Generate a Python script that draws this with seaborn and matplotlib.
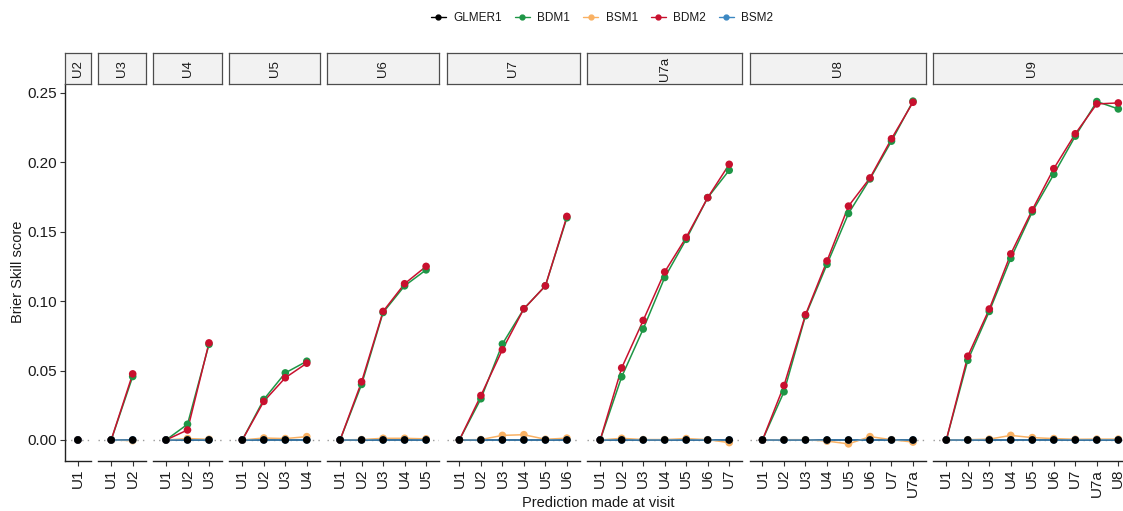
import matplotlib
matplotlib.use("Agg")
import matplotlib.pyplot as plt
from matplotlib.lines import Line2D
import numpy as np
import pandas as pd
import seaborn as sns

# Visits at which the prediction is made, and the target visit of each facet
visits = ["U1", "U2", "U3", "U4", "U5", "U6", "U7", "U7a", "U8"]
targets = ["U2", "U3", "U4", "U5", "U6", "U7", "U7a", "U8", "U9"]
models = ["GLMER1", "BDM1", "BSM1", "BDM2", "BSM2"]
palette = {"GLMER1": "#000000", "BDM1": "#1E9646", "BSM1": "#F9B163",
           "BDM2": "#C8102E", "BSM2": "#3C88C2"}

# Brier skill score per target visit (one value per prediction visit)
glmer1 = {
    "U2": [0.0],
    "U3": [0.0, 0.0],
    "U4": [0.0, 0.0, 0.0],
    "U5": [0.0, 0.0, 0.0, 0.0],
    "U6": [0.0, 0.0, 0.0, 0.0, 0.0],
    "U7": [0.0, 0.0, 0.0, 0.0, 0.0, 0.0],
    "U7a": [0.0, 0.0, 0.0, 0.0, 0.0, 0.0, 0.0],
    "U8": [0.0, 0.0, 0.0, 0.0, 0.0, 0.0, 0.0, 0.0],
    "U9": [0.0, 0.0, 0.0, 0.0, 0.0, 0.0, 0.0, 0.0, 0.0],
}
bdm1 = {
    "U2": [0.0],
    "U3": [0.0, 0.0457],
    "U4": [0.0, 0.0113, 0.0689],
    "U5": [0.0, 0.0292, 0.0483, 0.0567],
    "U6": [0.0, 0.0400, 0.0918, 0.1110, 0.1225],
    "U7": [0.0, 0.0297, 0.0691, 0.0945, 0.1110, 0.1600],
    "U7a": [0.0, 0.0455, 0.0799, 0.1170, 0.1445, 0.1745, 0.1942],
    "U8": [0.0, 0.0347, 0.0895, 0.1265, 0.1631, 0.1880, 0.2152, 0.2440],
    "U9": [0.0, 0.0574, 0.0926, 0.1308, 0.1643, 0.1913, 0.2188, 0.2437, 0.2384],
}
bsm1 = {
    "U2": [0.0],
    "U3": [0.0, -0.0005],
    "U4": [0.0, 0.0010, 0.0005],
    "U5": [0.0, 0.0014, 0.0010, 0.0024],
    "U6": [0.0, 0.0003, 0.0012, 0.0012, 0.0008],
    "U7": [0.0, 0.0003, 0.0033, 0.0038, 0.0005, 0.0013],
    "U7a": [0.0, 0.0012, 0.0003, 0.0003, 0.0010, 0.0002, -0.0019],
    "U8": [0.0, 0.0002, 0.0002, -0.0008, -0.0028, 0.0024, 0.0002, -0.0015],
    "U9": [0.0, 0.0002, 0.0006, 0.0033, 0.0017, 0.0010, 0.0005, 0.0006, 0.0006],
}
bdm2 = {
    "U2": [0.0],
    "U3": [0.0, 0.0476],
    "U4": [0.0, 0.0072, 0.0699],
    "U5": [0.0, 0.0278, 0.0448, 0.0553],
    "U6": [0.0, 0.0419, 0.0926, 0.1125, 0.1250],
    "U7": [0.0, 0.0320, 0.0650, 0.0945, 0.1110, 0.1610],
    "U7a": [0.0, 0.0519, 0.0861, 0.1210, 0.1459, 0.1745, 0.1985],
    "U8": [0.0, 0.0392, 0.0902, 0.1289, 0.1684, 0.1887, 0.2169, 0.2432],
    "U9": [0.0, 0.0603, 0.0943, 0.1340, 0.1657, 0.1954, 0.2205, 0.2420, 0.2427],
}
bsm2 = {
    "U2": [0.0],
    "U3": [0.0, 0.0],
    "U4": [0.0, 0.0, 0.0],
    "U5": [0.0, 0.0, 0.0, 0.0],
    "U6": [0.0, 0.0, 0.0, 0.0, 0.0],
    "U7": [0.0, 0.0, 0.0, 0.0, 0.0, 0.0],
    "U7a": [0.0, 0.0, 0.0, 0.0, 0.0, 0.0, 0.0],
    "U8": [0.0, 0.0, 0.0, 0.0, 0.0, 0.0, 0.0, 0.0],
    "U9": [0.0, 0.0, 0.0, 0.0, 0.0, 0.0, 0.0, 0.0, 0.0],
}
series = {"GLMER1": glmer1, "BDM1": bdm1, "BSM1": bsm1, "BDM2": bdm2, "BSM2": bsm2}

# Long-format table
rows = []
for t in targets:
    for m in models:
        for k, v in enumerate(series[m][t]):
            rows.append({"target": t, "visit": visits[k], "pos": k, "model": m, "bss": v})
df = pd.DataFrame(rows)

sns.set_style("white")
plt.rcParams["font.family"] = ["Liberation Sans", "DejaVu Sans"]
TXT = "#1a1a1a"

W, H = 1123, 511
fig = plt.figure(figsize=(W / 100, H / 100), dpi=100)

unit, gap, x0 = 21.5, 7.5, 65.0
p_top, p_bot, s_top = 84.0, 461.0, 53.0

lo, hi = df["bss"].min(), df["bss"].max()
pad = 0.05 * (hi - lo)
ylim = (lo - pad, hi + pad)

left = x0
point_order = ["BDM1", "BSM1", "BDM2", "BSM2", "GLMER1"]
for i, t in enumerate(targets):
    sub = df[df["target"] == t]
    n = sub["pos"].max() + 1
    width = (n + 0.2) * unit
    ax = fig.add_axes([left / W, 1 - p_bot / H, width / W, (p_bot - p_top) / H])
    ax.axhline(0, color="#9a9a9a", linestyle=(0, (1, 3)), linewidth=1.0, zorder=0)
    if n > 1:
        sns.lineplot(data=sub, x="pos", y="bss", hue="model", hue_order=models,
                     palette=palette, estimator=None, sort=False, legend=False,
                     linewidth=1.1, ax=ax, zorder=2)
    pts = pd.concat([sub[sub["model"] == m] for m in point_order])
    sns.scatterplot(data=pts, x="pos", y="bss", hue="model", palette=palette,
                    s=30, linewidth=0, legend=False, ax=ax, zorder=3)
    ax.set_xlim(-0.6, n - 1 + 0.6)
    ax.set_ylim(*ylim)
    ax.set_xticks(range(n))
    ax.set_xticklabels(visits[:n], rotation=90, fontsize=11, color=TXT)
    ax.set_xlabel("")
    ax.set_ylabel("")
    ax.set_facecolor("white")
    for s in ["top", "right", "left"]:
        ax.spines[s].set_visible(False)
    ax.spines["bottom"].set_color("#222222")
    ax.spines["bottom"].set_linewidth(1.0)
    ax.tick_params(axis="x", direction="out", length=3.5, width=0.8, color="#333333",
                   pad=2, bottom=True)
    if i == 0:
        ax.spines["left"].set_visible(True)
        ax.spines["left"].set_color("#222222")
        ax.spines["left"].set_linewidth(1.0)
        ax.set_yticks([0.0, 0.05, 0.10, 0.15, 0.20, 0.25])
        ax.set_yticklabels(["0.00", "0.05", "0.10", "0.15", "0.20", "0.25"],
                           fontsize=11, color=TXT)
        ax.tick_params(axis="y", direction="out", length=3.5, width=0.8,
                       color="#333333", pad=2, left=True)
    else:
        ax.set_yticks([])
    # facet strip
    sax = fig.add_axes([left / W, 1 - p_top / H, width / W, (p_top - s_top) / H])
    sax.set_facecolor("#F2F2F2")
    sax.set_xticks([])
    sax.set_yticks([])
    for s in sax.spines.values():
        s.set_visible(True)
        s.set_color("#4d4d4d")
        s.set_linewidth(0.9)
    sax.text(0.5, 0.5, t, rotation=90, ha="center", va="center",
             fontsize=9.5, color=TXT, transform=sax.transAxes)
    left += width + gap

fig.text(598 / W, 1 - 503 / H, "Prediction made at visit", ha="center", va="center",
         fontsize=10.5, color=TXT)
fig.text(18 / W, 1 - 272 / H, "Brier Skill score", rotation=90, ha="center",
         va="center", fontsize=10.5, color=TXT)

handles = [Line2D([], [], color=palette[m], marker="o", markersize=3.5,
                  linewidth=1.0) for m in models]
fig.legend(handles, models, loc="center", bbox_to_anchor=(602 / W, 1 - 18 / H),
           ncol=5, frameon=False, fontsize=8.5, handlelength=1.3,
           handletextpad=0.6, columnspacing=1.1, labelcolor=TXT)

fig.savefig("out.png", dpi=100)
